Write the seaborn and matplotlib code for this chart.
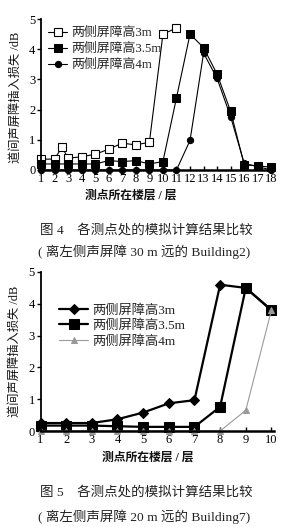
import matplotlib
matplotlib.use("Agg")
import matplotlib.pyplot as plt
import seaborn as sns
import pandas as pd
from matplotlib.font_manager import FontProperties

sns.set_theme(style="ticks")
FAM = ['Liberation Serif', 'Noto Sans CJK SC', 'DejaVu Sans']
plt.rcParams['font.family'] = FAM
plt.rcParams['axes.unicode_minus'] = False

# ---------------- data: figure 4 (Building2) ----------------
f4_x_3m = [1, 2, 2.55, 3, 4, 5, 6, 7, 8, 9, 10, 11]
f4_y_3m = [0.36, 0.36, 0.76, 0.39, 0.44, 0.52, 0.69, 0.89, 0.83, 0.92, 4.50, 4.70]
f4_x = list(range(1, 19))
f4_y_35m = [0.20, 0.20, 0.20, 0.20, 0.20, 0.31, 0.28, 0.31, 0.20, 0.28,
            2.39, 4.50, 4.05, 3.17, 1.94, 0.17, 0.14, 0.09]
f4_y_4m = [0, 0, 0, 0, 0, 0, 0, 0, 0, 0, 0,
           0.98, 3.87, 3.03, 1.76, 0.22, 0.11, 0.0]
f4_xticks = [str(i) for i in range(1, 19)]

# ---------------- data: figure 5 (Building7) ----------------
f5_x = list(range(1, 11))
f5_y_3m = [0.25, 0.25, 0.25, 0.37, 0.58, 0.87, 0.97, 4.60, 4.50, 3.80]
f5_y_35m = [0.17, 0.17, 0.17, 0.15, 0.13, 0.13, 0.13, 0.76, 4.50, 3.80]
f5_y_4m = [0, 0, 0, 0, 0, 0, 0, 0, 0.65, 3.80]
f5_xticks = [str(i) for i in range(1, 11)]

labels = ['两侧屏障高3m', '两侧屏障高3.5m', '两侧屏障高4m']
ylabel = '道间声屏障插入损失 /dB'
xlabel = '测点所在楼层 / 层'
cap4 = ['图 4　各测点处的模拟计算结果比较', '( 离左侧声屏障 30 m 远的 Building2)']
cap5 = ['图 5　各测点处的模拟计算结果比较', '( 离左侧声屏障 20 m 远的 Building7)']

W, H = 298, 527
fig = plt.figure(figsize=(W / 100, H / 100), dpi=100)
fig.patch.set_facecolor('white')

def axes_px(left, top, right, bottom):
    return fig.add_axes([left / W, 1 - bottom / H, (right - left) / W, (bottom - top) / H])

ax1 = axes_px(41, 19, 272, 170)
ax2 = axes_px(40.5, 272, 274, 431)

# ---- figure 4 ----
sns.lineplot(x=f4_x_3m, y=f4_y_3m, ax=ax1, color='black', lw=0.8, marker='s',
             markersize=5.5, markerfacecolor='white', markeredgecolor='black',
             markeredgewidth=0.8, label=labels[0], clip_on=False, sort=False)
sns.lineplot(x=f4_x, y=f4_y_35m, ax=ax1, color='black', lw=0.8, marker='s',
             markersize=6, markerfacecolor='black', markeredgecolor='black',
             label=labels[1], clip_on=False, sort=False)
sns.lineplot(x=f4_x, y=f4_y_4m, ax=ax1, color='black', lw=0.8, marker='o',
             markersize=4.5, markerfacecolor='black', markeredgecolor='black',
             label=labels[2], clip_on=False, sort=False)
ax1.set_xlim(1, 18.05)
ax1.set_xticks(f4_x)
ax1.set_xticklabels(f4_xticks)

# ---- figure 5 ----
sns.lineplot(x=f5_x, y=f5_y_3m, ax=ax2, color='black', lw=1.6, marker='D',
             markersize=5, markerfacecolor='black', markeredgecolor='black',
             label=labels[0], clip_on=False, sort=False)
sns.lineplot(x=f5_x, y=f5_y_35m, ax=ax2, color='black', lw=1.6, marker='s',
             markersize=6.5, markerfacecolor='black', markeredgecolor='black',
             label=labels[1], clip_on=False, sort=False)
sns.lineplot(x=f5_x, y=f5_y_4m, ax=ax2, color='#9a9a9a', lw=0.8, marker='^',
             markersize=5, markerfacecolor='#9a9a9a', markeredgecolor='#9a9a9a',
             label=labels[2], clip_on=False, sort=False)
ax2.set_xlim(1, 10.1)
ax2.set_xticks(f5_x)
ax2.set_xticklabels(f5_xticks)

tickfont = FontProperties(family=FAM, size=9)
labfont = FontProperties(family=FAM, size=8.8)
xlabfont = FontProperties(family=FAM, size=8.5, weight='bold')

for ax, hl, anchor, ls, lsize in [(ax1, 1.5, (0.03, 0.945), 0.3, 9.3),
                                  (ax2, 2.2, (0.08, 0.80), 0.22, 9.5)]:
    ax.set_ylim(0, 5)
    ax.set_yticks([0, 1, 2, 3, 4, 5])
    ax.set_facecolor('white')
    for s in ['top', 'right']:
        ax.spines[s].set_visible(False)
    ax.spines['left'].set_linewidth(1.3)
    ax.spines['bottom'].set_linewidth(1.8)
    ax.spines['left'].set_color('black')
    ax.spines['bottom'].set_color('black')
    ax.tick_params(axis='y', direction='out', length=3, width=1, pad=1, colors='black')
    ax.tick_params(axis='x', direction='in', length=3, width=1, pad=2, colors='black')
    for t in ax.get_xticklabels() + ax.get_yticklabels():
        t.set_fontproperties(tickfont)
    ax.set_ylabel(ylabel, fontproperties=labfont, labelpad=2, color='#111')
    ax.set_xlabel(xlabel, fontproperties=xlabfont, labelpad=2, color='#111')
    leg = ax.legend(loc='upper left', bbox_to_anchor=anchor, frameon=False,
                    prop=FontProperties(family=FAM, size=lsize), handlelength=hl,
                    handletextpad=0.3, labelspacing=ls, borderpad=0, borderaxespad=0)

ax1.xaxis.set_label_coords(0.39, -0.13)
ax2.xaxis.set_label_coords(0.46, -0.13)
ax1.yaxis.set_label_coords(-0.085, 0.48)
ax2.yaxis.set_label_coords(-0.083, 0.5)

capfont = FontProperties(family=FAM, size=9.7)
fig.text(146 / W, 1 - 230 / H, cap4[0], ha='center', va='center', fontproperties=capfont, color='#222')
fig.text(144 / W, 1 - 252 / H, cap4[1], ha='center', va='center', fontproperties=capfont, color='#222')
fig.text(146 / W, 1 - 492 / H, cap5[0], ha='center', va='center', fontproperties=capfont, color='#222')
fig.text(144 / W, 1 - 517 / H, cap5[1], ha='center', va='center', fontproperties=capfont, color='#222')

fig.savefig('out.png', dpi=100, facecolor='white')
